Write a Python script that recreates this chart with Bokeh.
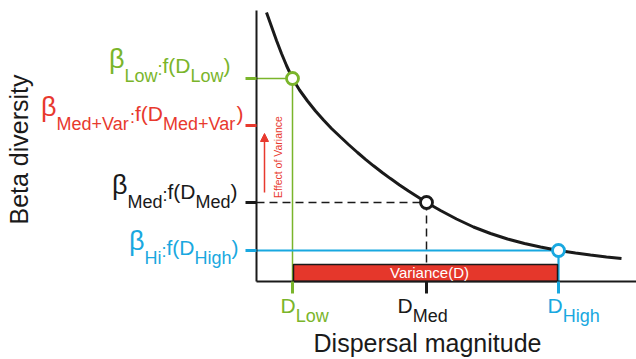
import math
from bokeh.plotting import figure
from bokeh.models import Arrow, NormalHead, Range1d
from bokeh.core.properties import value
from bokeh.embed import file_html
from bokeh.resources import INLINE

# ---------------- data (chart units, origin at the axis corner) ----------------
curve_dispersal = [10, 15, 20, 25, 30, 36, 43, 51, 59, 67, 75, 84, 92, 101, 109, 117,
                   126, 134, 143, 152, 161, 170, 184, 200, 217, 234, 251, 268, 284,
                   302, 319, 334, 350, 365]
curve_beta = [269, 255, 241, 228, 216, 203, 191.5, 180.5, 170.5, 161.5, 153, 144.5,
              137, 129, 122.2, 115.7, 108.8, 102.9, 96.6, 90.6, 84.8, 79, 71, 62.5,
              54.5, 48, 42.5, 38, 34.5, 31, 28.5, 26.5, 24.5, 23]

d_low, d_med, d_high = 36, 170, 302
beta_low, beta_med, beta_high = 203, 79, 31
beta_medvar = 156
axis_top = 271
axis_right = 380

y_label = "Beta diversity"
x_label = "Dispersal magnitude"
bar_label = "Variance(D)"
arrow_label = "Effect of Variance"
left_subs = [("Low", "Low"), ("Med+Var", "Med+Var"), ("Med", "Med"), ("Hi", "High")]
bottom_subs = ["Low", "Med", "High"]

# ---------------- styles ----------------
FONT = "Liberation Sans"
GREEN = "#7ab52b"
RED = "#e8392e"
BAR_RED = "#e5372b"
BLUE = "#19a8e0"
BLACK = "#1a1a1a"
BASE_FIX = 0.38  # em offset between requested and rendered alphabetic baseline

W = {'β': 0.576, 'L': 0.556, 'o': 0.556, 'w': 0.722, 'M': 0.833, 'e': 0.556,
     'd': 0.556, '+': 0.584, 'V': 0.667, 'a': 0.556, 'r': 0.333, 'H': 0.722,
     'i': 0.222, 'g': 0.556, 'h': 0.556, ':': 0.278, 'f': 0.278, '(': 0.333,
     ')': 0.333, 'D': 0.722}


def tw(s, size):
    return sum(W.get(c, 0.55) for c in s) * size


p = figure(width=636, height=359, x_range=Range1d(-256, 380), y_range=Range1d(-78, 281),
           min_border=0, toolbar_location=None, output_backend="svg",
           x_axis_location=None, y_axis_location=None)
p.grid.visible = False
p.outline_line_color = None
p.background_fill_color = "white"
p.border_fill_color = "white"

# guide lines
p.line([0, d_low], [beta_low, beta_low], line_color=GREEN, line_width=1.5)
p.line([d_low, d_low], [beta_low, 0], line_color=GREEN, line_width=1.5)
p.line([0, d_high], [beta_high, beta_high], line_color=BLUE, line_width=2.2)
p.line([d_high, d_high], [beta_high, 0], line_color=BLUE, line_width=2.2)
p.line([0, d_med], [beta_med, beta_med], line_color=BLACK, line_width=1.5, line_dash="8 5")
p.line([d_med, d_med], [beta_med, 0], line_color=BLACK, line_width=1.5, line_dash="8 5")

# variance bar
p.quad(left=[d_low + 1], right=[d_high - 1], bottom=[0], top=[17],
       fill_color=BAR_RED, line_color=BLACK, line_width=1.5)

# axes
p.line([0, 0], [0, axis_top], line_color=BLACK, line_width=2)
p.line([0, axis_right], [0, 0], line_color=BLACK, line_width=2)

# ticks
tick_cols = [GREEN, RED, BLACK, BLUE]
for yv, c in zip([beta_low, beta_medvar, beta_med, beta_high], tick_cols):
    p.line([-11, 0], [yv, yv], line_color=c, line_width=3)
for xv, c in zip([d_low, d_med, d_high], [GREEN, BLACK, BLUE]):
    p.line([xv, xv], [0, -12], line_color=c, line_width=3)

# curve
p.line(curve_dispersal, curve_beta, line_color=BLACK, line_width=3)

# points
p.scatter([d_low], [beta_low], size=12, fill_color="white", line_color=GREEN, line_width=2.8)
p.scatter([d_med], [beta_med], size=12, fill_color="white", line_color=BLACK, line_width=2.8)
p.scatter([d_high], [beta_high], size=12, fill_color="white", line_color=BLUE, line_width=2.8)

# arrow
p.add_layout(Arrow(end=NormalHead(size=8, fill_color=RED, line_color=RED, line_width=1),
                   x_start=8, y_start=89, x_end=8, y_end=148,
                   line_color=RED, line_width=1.5))


def txt(x, y, s, size, color, align="left", angle=0.0):
    if angle:
        x = x - BASE_FIX * size
    else:
        y = y + BASE_FIX * size
    p.text(x=[x], y=[y], text=[s], text_font=value(FONT), text_font_size=value(f"{size}px"),
           text_color=color, text_align=align, text_baseline="alphabetic", angle=angle)


# left labels: beta_X : f(D_X)
left_vals = [beta_low, beta_medvar, beta_med, beta_high]
left_cols = [GREEN, RED, BLACK, BLUE]
left_end = [-26, -13, -19, -18]
left_shift = [5, 4, 3, -5]
for (s1, s2), yv, c, xe, sh in zip(left_subs, left_vals, left_cols, left_end, left_shift):
    mb = yv + sh
    pieces = [("β", 27, mb + 4), (s1, 18, mb - 9), (":", 18, mb - 2),
              ("f(D", 21, mb), (s2, 18, mb - 9), (")", 21, mb)]
    total = sum(tw(t, sz) for t, sz, _ in pieces)
    x = xe - total
    for t, sz, yy in pieces:
        txt(x, yy, t, sz, c)
        x += tw(t, sz)

# bottom labels: D_X
for xv, sub, c, off in zip([d_low, d_med, d_high], bottom_subs, [GREEN, BLACK, BLUE], [-12, -29, -11]):
    x0 = xv + off
    txt(x0, -32, "D", 21, c)
    txt(x0 + tw("D", 21), -41, sub, 18, c)

# axis titles
txt(d_med + 1, -71, x_label, 25, BLACK, align="center")
txt(-228, 132, y_label, 25, BLACK, align="center", angle=math.pi / 2)

# bar and arrow text
txt(d_med + 3, 3, bar_label, 15, "white", align="center")
txt(25.5, 124.5, arrow_label, 10.5, RED, align="center", angle=math.pi / 2)

open("out.html", "w").write(file_html(p, INLINE))
